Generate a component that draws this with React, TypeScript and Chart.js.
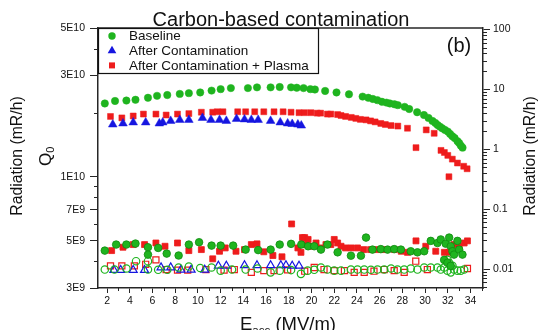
import React, { useEffect, useRef } from 'react';
import { Chart, registerables } from 'chart.js';
Chart.register(...registerables);

const GREEN = '#1fb41f';
const GREEN_DARK = '#0f8a0f';
const RED = '#ee1c1c';
const BLUE = '#1616e0';
const AXIS = '#262626';
const FONT = "'Liberation Sans', Arial, Helvetica, sans-serif";

// ---- Q0 (left axis) ----
const baselineE = [1.8, 2.7, 3.7, 4.5, 5.6, 6.4, 7.3, 8.4, 9.2, 10.2, 11.2, 12.0, 12.9, 14.4, 15.2, 16.4, 17.2, 18.2, 18.7, 19.3, 19.9, 20.3, 21.2, 22.2, 23.3, 24.5, 25.0, 25.4, 25.8, 26.2, 26.6, 26.9, 27.3, 27.6, 28.2, 28.6, 29.3, 29.9, 30.3, 30.65, 30.9, 31.1, 31.3, 31.5, 31.75, 32.0, 32.2, 32.4, 32.6, 32.85, 33.0, 33.15, 33.3];
const baselineQ = [2.21e10, 2.27e10, 2.28e10, 2.30e10, 2.35e10, 2.40e10, 2.42e10, 2.45e10, 2.47e10, 2.49e10, 2.54e10, 2.58e10, 2.61e10, 2.61e10, 2.63e10, 2.63e10, 2.64e10, 2.63e10, 2.62e10, 2.61e10, 2.58e10, 2.57e10, 2.53e10, 2.49e10, 2.44e10, 2.38e10, 2.35e10, 2.32e10, 2.29e10, 2.25e10, 2.23e10, 2.21e10, 2.19e10, 2.17e10, 2.13e10, 2.08e10, 2.01e10, 1.95e10, 1.89e10, 1.83e10, 1.79e10, 1.75e10, 1.72e10, 1.69e10, 1.66e10, 1.63e10, 1.59e10, 1.55e10, 1.52e10, 1.47e10, 1.44e10, 1.40e10, 1.37e10];

const contamE = [2.5, 3.4, 4.3, 5.4, 6.6, 6.9, 7.6, 8.4, 9.2, 10.4, 11.15, 11.9, 12.5, 13.4, 14.1, 14.7, 15.3, 16.4, 17.25, 17.9, 18.3, 18.8, 19.1];
const contamQ = [1.76e10, 1.78e10, 1.80e10, 1.80e10, 1.78e10, 1.80e10, 1.83e10, 1.85e10, 1.85e10, 1.89e10, 1.85e10, 1.85e10, 1.83e10, 1.87e10, 1.86e10, 1.85e10, 1.85e10, 1.83e10, 1.80e10, 1.78e10, 1.77e10, 1.76e10, 1.74e10];

const plasmaE = [2.3, 3.3, 4.3, 5.2, 6.3, 7.2, 8.2, 9.2, 10.3, 11.3, 11.7, 12.2, 13.5, 14.2, 15.0, 15.8, 16.7, 17.5, 18.2, 18.9, 19.4, 19.95, 20.5, 20.8, 21.4, 21.7, 22.3, 22.6, 23.0, 23.5, 23.9, 24.3, 24.8, 25.2, 25.6, 26.1, 26.5, 27.0, 27.6, 28.45, 29.2, 30.1, 30.8, 31.4, 31.7, 32.0, 32.1, 32.4, 32.85, 33.4, 33.7];
const plasmaQ = [1.92e10, 1.89e10, 1.93e10, 1.97e10, 1.97e10, 1.95e10, 1.97e10, 1.98e10, 2.01e10, 2.01e10, 2.02e10, 2.02e10, 2.02e10, 2.02e10, 2.02e10, 2.02e10, 2.02e10, 2.02e10, 2.01e10, 2.00e10, 2.00e10, 2.00e10, 1.99e10, 1.99e10, 1.97e10, 1.97e10, 1.96e10, 1.94e10, 1.92e10, 1.90e10, 1.88e10, 1.86e10, 1.85e10, 1.83e10, 1.81e10, 1.78e10, 1.76e10, 1.74e10, 1.73e10, 1.69e10, 1.37e10, 1.66e10, 1.60e10, 1.33e10, 1.30e10, 1.26e10, 1.00e10, 1.21e10, 1.16e10, 1.12e10, 1.09e10];

// ---- Radiation (right axis) ----
const baseRadE = [1.8, 2.8, 3.7, 4.5, 5.6, 5.6, 6.5, 7.25, 8.3, 9.2, 10.1, 11.2, 12.0, 13.1, 14.2, 15.3, 16.4, 17.2, 18.2, 19.1, 19.7, 20.24, 20.83, 21.4, 22.3, 23.47, 24.35, 24.8, 25.37, 26.1, 26.7, 27.28, 27.87, 28.74, 29.33, 29.92, 30.5, 31.09, 31.38, 31.68, 31.82, 31.97, 32.12, 32.26, 32.26, 32.41, 32.55, 32.85, 33.0, 33.29];
const baseRadR = [0.0203, 0.0256, 0.0256, 0.0266, 0.0231, 0.0174, 0.0225, 0.0181, 0.0168, 0.0256, 0.028, 0.0246, 0.0246, 0.0246, 0.0211, 0.0207, 0.0211, 0.0256, 0.0263, 0.0256, 0.024, 0.024, 0.0211, 0.0256, 0.019, 0.0167, 0.0167, 0.0335, 0.0211, 0.0215, 0.0211, 0.0215, 0.0211, 0.0198, 0.019, 0.0198, 0.0295, 0.0272, 0.0312, 0.0142, 0.0265, 0.0127, 0.0335, 0.024, 0.0113, 0.0198, 0.0174, 0.0295, 0.0211, 0.0174];

const baseOpenE = [1.8, 2.65, 3.7, 4.55, 5.6, 5.6, 6.5, 7.3, 8.3, 9.2, 10.2, 11.2, 12.0, 13.0, 14.2, 15.25, 16.4, 17.2, 18.2, 19.07, 19.66, 20.24, 20.83, 21.4, 22.0, 22.6, 23.47, 24.05, 24.64, 25.23, 25.81, 26.4, 27.0, 27.57, 28.16, 28.74, 29.33, 29.92, 30.5, 31.09, 31.38, 31.68, 31.97, 31.97, 32.12, 32.26, 32.41, 32.55, 32.85, 33.14, 33.44];
const baseOpenR = [0.0098, 0.0098, 0.0102, 0.0135, 0.0135, 0.0098, 0.0097, 0.0097, 0.0106, 0.011, 0.0104, 0.0106, 0.0094, 0.0098, 0.0098, 0.0102, 0.0088, 0.0094, 0.0096, 0.0083, 0.0094, 0.0097, 0.0106, 0.0098, 0.0094, 0.0094, 0.0098, 0.0098, 0.0098, 0.0097, 0.0098, 0.0098, 0.0102, 0.0098, 0.0098, 0.0102, 0.0098, 0.0106, 0.0106, 0.0106, 0.0098, 0.0106, 0.0094, 0.0142, 0.0127, 0.0088, 0.0113, 0.0098, 0.0094, 0.0094, 0.0098];

const plasmaRadE = [2.4, 3.4, 4.3, 5.3, 6.3, 7.1, 8.2, 9.2, 10.3, 11.3, 11.9, 12.4, 13.35, 14.1, 14.7, 15.2, 15.8, 16.6, 17.4, 18.25, 18.8, 19.07, 19.2, 19.4, 19.5, 19.7, 19.95, 20.4, 20.83, 21.27, 21.7, 22.0, 22.3, 22.6, 23.0, 23.5, 24.05, 24.6, 25.2, 25.8, 26.4, 27.3, 27.9, 28.45, 29.2, 30.06, 30.94, 31.7, 32.1, 32.55, 33.0, 33.44, 33.73];
const plasmaRadR = [0.0203, 0.0231, 0.0256, 0.0256, 0.0272, 0.024, 0.0272, 0.0203, 0.0211, 0.0148, 0.0198, 0.0225, 0.0198, 0.0211, 0.0256, 0.0263, 0.0194, 0.0168, 0.016, 0.0566, 0.0225, 0.019, 0.0335, 0.0335, 0.0256, 0.0312, 0.024, 0.0272, 0.0225, 0.0256, 0.0256, 0.0312, 0.0272, 0.024, 0.0225, 0.0225, 0.0225, 0.0211, 0.0211, 0.0211, 0.0211, 0.0211, 0.0198, 0.019, 0.0295, 0.024, 0.0198, 0.019, 0.019, 0.0256, 0.024, 0.0272, 0.0295];

const plasmaOpenE = [2.3, 3.3, 4.4, 5.4, 6.3, 7.2, 8.2, 9.1, 10.7, 12.3, 13.2, 14.7, 15.8, 16.7, 17.9, 19.4, 20.24, 21.1, 22.0, 22.9, 23.76, 24.64, 25.5, 26.4, 27.28, 28.16, 29.18, 30.2, 33.73];
const plasmaOpenR = [0.0113, 0.0113, 0.0113, 0.012, 0.0142, 0.0098, 0.0096, 0.0096, 0.0098, 0.0096, 0.0098, 0.0088, 0.0094, 0.0094, 0.0097, 0.0092, 0.0106, 0.0098, 0.0094, 0.0094, 0.0088, 0.0088, 0.0092, 0.0098, 0.0094, 0.0088, 0.0135, 0.0098, 0.0102];

const contamOpenE = [2.6, 3.2, 4.3, 5.3, 6.75, 7.6, 8.5, 9.4, 10.6, 11.8, 12.5, 14.1, 15.2, 16.4, 17.3, 17.75, 18.3, 18.9];
const contamOpenR = [0.0096, 0.0096, 0.0096, 0.0096, 0.0106, 0.0106, 0.0097, 0.0097, 0.0097, 0.0113, 0.0113, 0.0115, 0.0115, 0.0115, 0.0115, 0.0115, 0.0113, 0.0113];

// ---- ticks ----
const xTicks = [2, 4, 6, 8, 10, 12, 14, 16, 18, 20, 22, 24, 26, 28, 30, 32, 34];
const xMinor = [3, 5, 7, 9, 11, 13, 15, 17, 19, 21, 23, 25, 27, 29, 31, 33, 35];
const leftTicks = [3e9, 5e9, 7e9, 1e10, 3e10, 5e10];
const leftTickLabels = ['3E9', '5E9', '7E9', '1E10', '3E10', '5E10'];
const leftMinor = [4e9, 6e9, 8e9, 9e9, 2e10, 4e10];
const rightTicks = [0.01, 0.1, 1, 10, 100];
const rightTickLabels = ['0.01', '0.1', '1', '10', '100'];
const rightMinor = [0.005, 0.006, 0.007, 0.008, 0.009, 0.02, 0.03, 0.04, 0.05, 0.06, 0.07, 0.08, 0.09, 0.2, 0.3, 0.4, 0.5, 0.6, 0.7, 0.8, 0.9, 2, 3, 4, 5, 6, 7, 8, 9, 20, 30, 40, 50, 60, 70, 80, 90];

const legendItems = ['Baseline', 'After Contamination', 'After Contamination + Plasma'];

const pts = (xs: number[], ys: number[]) => xs.map((x, i) => ({ x, y: ys[i] }));

function drawMarker(ctx: CanvasRenderingContext2D, kind: string, x: number, y: number, color: string) {
  ctx.fillStyle = color;
  ctx.beginPath();
  if (kind === 'circle') {
    ctx.arc(x, y, 3.7, 0, Math.PI * 2);
  } else if (kind === 'triangle') {
    const r = 5;
    ctx.moveTo(x, y - r);
    ctx.lineTo(x + r * Math.cos(Math.PI / 6), y + r / 2);
    ctx.lineTo(x - r * Math.cos(Math.PI / 6), y + r / 2);
    ctx.closePath();
  } else {
    ctx.rect(x - 3, y - 3, 6, 6);
  }
  ctx.fill();
}

const deco = {
  id: 'deco',
  afterDraw(chart: any) {
    const { ctx, chartArea: a, scales } = chart;
    ctx.save();
    ctx.strokeStyle = AXIS;
    // top border
    ctx.lineWidth = 1.5;
    ctx.beginPath();
    ctx.moveTo(a.left, a.top);
    ctx.lineTo(a.right, a.top);
    ctx.stroke();
    // minor ticks
    ctx.lineWidth = 1;
    ctx.beginPath();
    leftMinor.forEach((v) => {
      const p = Math.round(scales.y.getPixelForValue(v)) + 0.5;
      ctx.moveTo(a.left - 4, p);
      ctx.lineTo(a.left, p);
    });
    rightMinor.forEach((v) => {
      const p = Math.round(scales.y2.getPixelForValue(v)) + 0.5;
      ctx.moveTo(a.right, p);
      ctx.lineTo(a.right + 4, p);
    });
    xMinor.forEach((v) => {
      const p = Math.round(scales.x.getPixelForValue(v)) + 0.5;
      if (p > a.right) return;
      ctx.moveTo(p, a.bottom);
      ctx.lineTo(p, a.bottom + 3);
    });
    ctx.stroke();

    // legend box
    ctx.fillStyle = '#fff';
    ctx.fillRect(a.left, a.top, 220, 45);
    ctx.lineWidth = 1.2;
    ctx.strokeStyle = '#111';
    ctx.strokeRect(a.left + 0.5, a.top + 0.5, 220, 45);
    const kinds = ['circle', 'triangle', 'rect'];
    const cols = [GREEN, BLUE, RED];
    ctx.font = `13.5px ${FONT}`;
    ctx.textAlign = 'left';
    ctx.textBaseline = 'middle';
    legendItems.forEach((t, i) => {
      const yy = a.top + 8 + i * 14.7;
      drawMarker(ctx, kinds[i], a.left + 14, yy, cols[i]);
      ctx.fillStyle = '#111';
      ctx.fillText(t, a.left + 31, yy + 0.5);
    });

    // title
    ctx.fillStyle = '#111';
    ctx.textAlign = 'center';
    ctx.textBaseline = 'alphabetic';
    ctx.font = `20px ${FONT}`;
    ctx.fillText('Carbon-based contamination', 281, 26);
    // panel tag
    ctx.font = `20px ${FONT}`;
    ctx.fillText('(b)', 459, 52);

    // left y titles
    ctx.save();
    ctx.translate(18, 156);
    ctx.rotate(-Math.PI / 2);
    ctx.font = `15.8px ${FONT}`;
    ctx.textAlign = 'center';
    ctx.textBaseline = 'middle';
    ctx.fillText('Radiation (mR/h)', 0, 0);
    ctx.restore();

    ctx.save();
    ctx.translate(46, 158);
    ctx.rotate(-Math.PI / 2);
    ctx.font = `17px ${FONT}`;
    ctx.textAlign = 'left';
    ctx.textBaseline = 'middle';
    ctx.fillText('Q', -8, 0);
    const qw = ctx.measureText('Q').width;
    ctx.font = `11px ${FONT}`;
    ctx.fillText('0', -8 + qw, 5);
    ctx.restore();

    // right y title
    ctx.save();
    ctx.translate(531, 156);
    ctx.rotate(-Math.PI / 2);
    ctx.font = `15.8px ${FONT}`;
    ctx.textAlign = 'center';
    ctx.textBaseline = 'middle';
    ctx.fillText('Radiation (mR/h)', 0, 0);
    ctx.restore();

    // x title
    ctx.textAlign = 'left';
    ctx.textBaseline = 'alphabetic';
    ctx.font = `18.5px ${FONT}`;
    let xx = 240;
    ctx.fillText('E', xx, 330);
    xx += ctx.measureText('E').width;
    ctx.font = `11.5px ${FONT}`;
    ctx.fillText('acc', xx, 334);
    xx += ctx.measureText('acc').width;
    ctx.font = `18.5px ${FONT}`;
    ctx.fillText(' (MV/m)', xx, 330);

    ctx.restore();
  },
};

export default function App() {
  const ref = useRef<HTMLCanvasElement | null>(null);
  useEffect(() => {
    document.body.style.margin = '0';
    const canvas = ref.current;
    if (!canvas) return;
    const tickFont = { family: FONT, size: 10.5 };
    const openStyle = (color: string, style: string, r: number) => ({
      pointStyle: style,
      pointRadius: r,
      backgroundColor: 'rgba(255,255,255,0)',
      borderColor: color,
      borderWidth: 1.2,
    });
    const chart = new Chart(canvas, {
      type: 'scatter',
      data: {
        datasets: [
          { label: 'Baseline radiation', data: pts(baseRadE, baseRadR), yAxisID: 'y2', pointStyle: 'circle', pointRadius: 3.8, backgroundColor: GREEN, borderColor: GREEN_DARK, borderWidth: 0.8 },
          { label: 'Baseline radiation (open)', data: pts(baseOpenE, baseOpenR), yAxisID: 'y2', ...openStyle(GREEN, 'circle', 3.7) },
          { label: 'After Contamination radiation', data: pts(contamOpenE, contamOpenR), yAxisID: 'y2', ...openStyle(BLUE, 'triangle', 4.6) },
          { label: 'Plasma radiation', data: pts(plasmaRadE, plasmaRadR), yAxisID: 'y2', pointStyle: 'rect', pointRadius: 4.2, backgroundColor: RED, borderColor: RED, borderWidth: 0.8 },
          { label: 'Plasma radiation (open)', data: pts(plasmaOpenE, plasmaOpenR), yAxisID: 'y2', ...openStyle(RED, 'rect', 4.3) },
          { label: legendItems[0], data: pts(baselineE, baselineQ), yAxisID: 'y', pointStyle: 'circle', pointRadius: 3.7, backgroundColor: GREEN, borderColor: GREEN, borderWidth: 0.5 },
          { label: legendItems[1], data: pts(contamE, contamQ), yAxisID: 'y', pointStyle: 'triangle', pointRadius: 5, backgroundColor: BLUE, borderColor: BLUE, borderWidth: 0.5 },
          { label: legendItems[2], data: pts(plasmaE, plasmaQ), yAxisID: 'y', pointStyle: 'rect', pointRadius: 4.2, backgroundColor: RED, borderColor: RED, borderWidth: 0.5 },
        ] as any,
      },
      options: {
        animation: false,
        responsive: false,
        events: [],
        layout: { padding: { top: 28, left: 0, right: 0, bottom: 0 } },
        plugins: { legend: { display: false }, title: { display: false }, tooltip: { enabled: false } },
        scales: {
          x: {
            type: 'linear',
            min: 1.2,
            max: 35.1,
            afterFit: (s: any) => { s.height = 42; },
            afterBuildTicks: (s: any) => { s.ticks = xTicks.map((v) => ({ value: v })); },
            ticks: { font: tickFont, color: '#111', padding: 2, maxRotation: 0, autoSkip: false, callback: (v: any) => String(v) },
            grid: { display: true, drawOnChartArea: false, tickLength: 5, color: AXIS, tickWidth: 1 },
            border: { display: true, color: AXIS, width: 1.5 },
          },
          y: {
            type: 'logarithmic',
            position: 'left',
            min: 3e9,
            max: 5e10,
            afterFit: (s: any) => { s.width = 98; },
            afterBuildTicks: (s: any) => { s.ticks = leftTicks.map((v) => ({ value: v })); },
            ticks: {
              font: tickFont, color: '#111', padding: 5, autoSkip: false,
              callback: (v: any) => { const i = leftTicks.indexOf(Number(v)); return i >= 0 ? leftTickLabels[i] : ''; },
            },
            grid: { display: true, drawOnChartArea: false, tickLength: 8, color: AXIS, tickWidth: 1 },
            border: { display: true, color: AXIS, width: 1.5 },
          },
          y2: {
            type: 'logarithmic',
            position: 'right',
            min: 0.00482,
            max: 105.9,
            afterFit: (s: any) => { s.width = 58; },
            afterBuildTicks: (s: any) => { s.ticks = rightTicks.map((v) => ({ value: v })); },
            ticks: {
              font: tickFont, color: '#111', padding: 3, autoSkip: false,
              callback: (v: any) => { const i = rightTicks.indexOf(Number(v)); return i >= 0 ? rightTickLabels[i] : ''; },
            },
            grid: { display: true, drawOnChartArea: false, tickLength: 7, color: AXIS, tickWidth: 1 },
            border: { display: true, color: AXIS, width: 1.5 },
          },
        },
      } as any,
      plugins: [deco],
    });
    return () => chart.destroy();
  }, []);
  return (
    <div style={{ position: 'fixed', left: 0, top: 0, width: 541, height: 330, background: '#fff' }}>
      <canvas ref={ref} width={541} height={330} style={{ display: 'block', width: 541, height: 330 }} />
    </div>
  );
}
